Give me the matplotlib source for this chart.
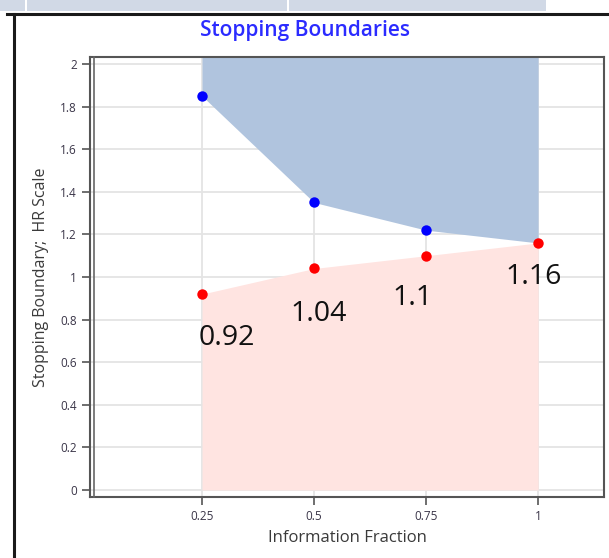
import matplotlib
matplotlib.use("Agg")
import matplotlib.pyplot as plt
from matplotlib.patches import Rectangle
from matplotlib.lines import Line2D

# ---- data ----
info_fraction = [0.25, 0.5, 0.75, 1.0]
upper_boundary = [1.85, 1.35, 1.22, 1.16]
lower_boundary = [0.92, 1.04, 1.10, 1.16]
lower_labels = ["0.92", "1.04", "1.1", "1.16"]
x_ticks = [0.25, 0.5, 0.75, 1.0]
x_tick_labels = ["0.25", "0.5", "0.75", "1"]
y_ticks = [0, 0.2, 0.4, 0.6, 0.8, 1.0, 1.2, 1.4, 1.6, 1.8, 2.0]
y_tick_labels = ["0", "0.2", "0.4", "0.6", "0.8", "1", "1.2", "1.4", "1.6", "1.8", "2"]
title = "Stopping Boundaries"
x_label = "Information Fraction"
y_label = "Stopping Boundary;  HR Scale"

# label offsets (pixels -> points) for the data labels
label_offsets_px = [(-3, -30), (-24, -32), (-34, -28), (-33, -20)]

W, H = 609, 558
dpi = 100
fig = plt.figure(figsize=(W / dpi, H / dpi), dpi=dpi)
fig.patch.set_facecolor("white")


def fx(px):
    return px / W


def fy(py):
    return 1 - py / H


# top decoration band and frame lines
fig.add_artist(Rectangle((0, fy(11)), fx(546), 11 / H, transform=fig.transFigure,
                         facecolor="#d1d9e6", edgecolor="none"))
for sx in (25, 287):
    fig.add_artist(Rectangle((fx(sx), fy(11)), fx(2), 11 / H, transform=fig.transFigure,
                             facecolor="white", edgecolor="none"))
fig.add_artist(Line2D([fx(7), 1], [fy(13.5), fy(13.5)], transform=fig.transFigure,
                      color="#1a1a1a", lw=2.2))
fig.add_artist(Line2D([fx(13.5), fx(13.5)], [fy(13.5), 0], transform=fig.transFigure,
                      color="#1a1a1a", lw=2.2))

left, right, top, bottom = 90, 604, 57, 497
ax = fig.add_axes([fx(left), 1 - bottom / H, (right - left) / W, (bottom - top) / H])
ax.set_xlim(0.0, 1.147)
ax.set_ylim(-0.033, 2.033)

# grid
ax.set_axisbelow(True)
ax.grid(True, color="#e4e4e4", lw=1.3)

# fills
ymax = ax.get_ylim()[1]
ax.fill_between(info_fraction, upper_boundary, ymax, color="#b0c4de", lw=0, zorder=1)
ax.fill_between(info_fraction, 0, lower_boundary, color="#ffe4e1", lw=0, zorder=1)

# points
ax.plot(info_fraction[:3], upper_boundary[:3], "o", color="#0000ff", ms=7.5, mec="none", zorder=3)
ax.plot(info_fraction, lower_boundary, "o", color="#ff0000", ms=7.5, mec="none", zorder=3)

for x, y, lab, (dx, dy) in zip(info_fraction, lower_boundary, lower_labels, label_offsets_px):
    ax.annotate(lab, (x, y), xytext=(dx * 0.72, dy * 0.72), textcoords="offset points",
                ha="left", va="top", fontsize=20.5, family="Open Sans", color="#111111", zorder=4)

ax.set_xticks(x_ticks)
ax.set_xticklabels(x_tick_labels)
ax.set_yticks(y_ticks)
ax.set_yticklabels(y_tick_labels)
ax.tick_params(axis="both", direction="out", length=6, width=1.2, color="#555555",
               labelsize=8.5, labelcolor="#3a3548", pad=3.5)
for lbl in ax.get_xticklabels() + ax.get_yticklabels():
    lbl.set_family("Open Sans")

for s in ax.spines.values():
    s.set_color("#555555")
    s.set_linewidth(1.5)
# inner double line on the left
ax.plot([4 / (right - left)] * 2, [0, 1], transform=ax.transAxes, color="#666666", lw=1.2,
        clip_on=False, zorder=5)

ax.set_xlabel(x_label, fontsize=12, family="Open Sans", color="#3a3a3a", labelpad=5)
ax.set_ylabel(y_label, fontsize=11.5, family="Open Sans", color="#3a3a3a", labelpad=8)

fig.text(0.5, fy(30.5), title, ha="center", va="center", fontsize=15, family="Open Sans",
         weight="semibold", color="#2b2bff")

fig.savefig("out.png", dpi=dpi)
